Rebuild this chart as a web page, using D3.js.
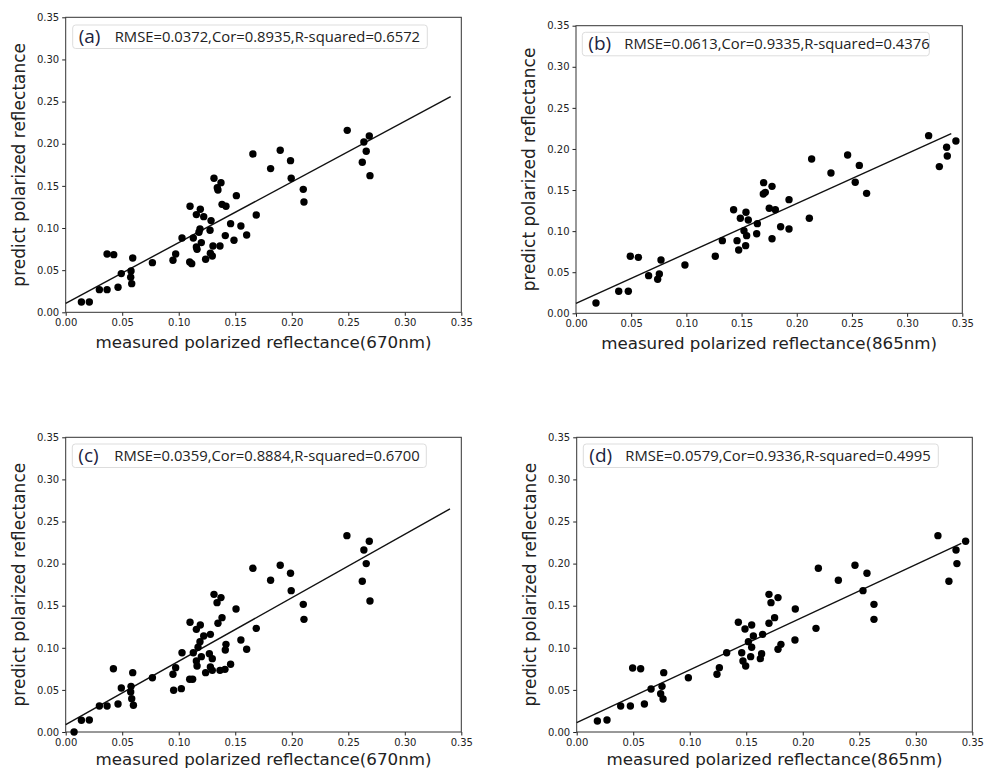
<!DOCTYPE html>
<html>
<head>
<meta charset="utf-8">
<script src="https://cdn.jsdelivr.net/npm/d3@7"></script>
<style>
  body { margin: 0; background: #fff; }
  svg { display: block; }
</style>
</head>
<body>
<div id="chart"></div>
<script>
// DATA
const ticks = [0, 0.05, 0.10, 0.15, 0.20, 0.25, 0.30, 0.35];

// (a) 670nm
const xA = [0.0139,0.0209,0.0298,0.0366,0.0366,0.0425,0.0463,0.0492,0.0578,0.0575,0.0584,0.0593,0.0767,0.0949,0.0973,0.1029,0.1097,0.1115,0.1100,0.1129,0.1156,0.1162,0.1156,0.1191,0.1221,0.1188,0.1179,0.1200,0.1238,0.1280,0.1297,0.1303,0.1277,0.1286,0.1312,0.1341,0.1347,0.1374,0.1383,0.1418,0.1365,0.1412,0.1459,0.1489,0.1510,0.1550,0.1601,0.1686,0.1656,0.1813,0.1898,0.1989,0.1995,0.2102,0.2108,0.2491,0.2638,0.2686,0.2659,0.2624,0.2692];
const yA = [0.0123,0.0123,0.0269,0.0269,0.0692,0.0684,0.0297,0.0459,0.0490,0.0415,0.0340,0.0645,0.0589,0.0617,0.0692,0.0882,0.0597,0.0577,0.1258,0.0882,0.0775,0.0747,0.1159,0.1222,0.1135,0.0989,0.0949,0.0827,0.0629,0.0700,0.0668,0.0787,0.0973,0.1088,0.1590,0.1479,0.1451,0.1538,0.1281,0.1258,0.0787,0.0910,0.1052,0.0854,0.1384,0.1024,0.0917,0.1155,0.1879,0.1705,0.1922,0.1799,0.1590,0.1459,0.1309,0.2159,0.2021,0.2092,0.1910,0.1780,0.1621];
const fitA = [[0, 0.0107], [0.3406, 0.2559]];

// (b) 865nm
const xB = [0.0181,0.0387,0.0474,0.0492,0.0565,0.0658,0.0755,0.0740,0.0770,0.0987,0.1262,0.1326,0.1428,0.1459,0.1474,0.1489,0.1540,0.1561,0.1522,0.1546,0.1537,0.1643,0.1637,0.1697,0.1715,0.1700,0.1776,0.1751,0.1806,0.1776,0.1854,0.1930,0.1930,0.2114,0.2135,0.2310,0.2461,0.2530,0.2567,0.2633,0.3195,0.3292,0.3358,0.3364,0.3442];
const yB = [0.0126,0.0268,0.0268,0.0694,0.0681,0.0458,0.0479,0.0414,0.0649,0.0588,0.0694,0.0884,0.1261,0.0884,0.0771,0.1156,0.1229,0.1136,0.1006,0.0945,0.0823,0.1091,0.0969,0.1452,0.1472,0.1590,0.1545,0.1278,0.1261,0.0908,0.1054,0.1383,0.1026,0.1156,0.1878,0.1707,0.1926,0.1594,0.1800,0.1460,0.2162,0.1785,0.2020,0.1914,0.2097];
const fitB = [[0, 0.0122], [0.3400, 0.2186]];

// (c) 670nm
const xC = [0.0074,0.0139,0.0209,0.0298,0.0366,0.0422,0.0463,0.0492,0.0578,0.0575,0.0584,0.0599,0.0593,0.0767,0.0949,0.0973,0.0955,0.1023,0.1029,0.1097,0.1123,0.1100,0.1129,0.1156,0.1162,0.1156,0.1191,0.1221,0.1188,0.1171,0.1200,0.1238,0.1280,0.1271,0.1297,0.1280,0.1297,0.1312,0.1339,0.1374,0.1347,0.1383,0.1365,0.1409,0.1412,0.1418,0.1459,0.1507,0.1550,0.1601,0.1686,0.1656,0.1813,0.1898,0.1989,0.1995,0.2102,0.2108,0.2488,0.2638,0.2686,0.2659,0.2624,0.2692];
const yC = [0.0000,0.0139,0.0143,0.0309,0.0309,0.0752,0.0333,0.0523,0.0542,0.0475,0.0396,0.0317,0.0705,0.0645,0.0685,0.0764,0.0495,0.0515,0.0942,0.0626,0.0626,0.1303,0.0942,0.0843,0.0784,0.1219,0.1271,0.1140,0.1073,0.1006,0.0895,0.0705,0.1160,0.0930,0.0871,0.0772,0.0732,0.1635,0.1536,0.1596,0.1291,0.1358,0.0732,0.0744,0.0974,0.1041,0.0804,0.1461,0.1093,0.0982,0.1231,0.1944,0.1802,0.1980,0.1885,0.1679,0.1516,0.1338,0.2332,0.2162,0.2265,0.2000,0.1790,0.1556];
const fitC = [[0, 0.0087], [0.3400, 0.2649]];

// (d) 865nm
const xD = [0.0183,0.0268,0.0389,0.0475,0.0495,0.0566,0.0599,0.0658,0.0755,0.0743,0.0764,0.0770,0.0988,0.1241,0.1262,0.1327,0.1430,0.1460,0.1471,0.1495,0.1489,0.1548,0.1563,0.1519,0.1548,0.1539,0.1625,0.1636,0.1645,0.1701,0.1719,0.1781,0.1701,0.1751,0.1781,0.1807,0.1934,0.1931,0.2117,0.2138,0.2315,0.2462,0.2568,0.2533,0.2630,0.2630,0.3196,0.3356,0.3441,0.3364,0.3293];
const yD = [0.0131,0.0143,0.0309,0.0309,0.0760,0.0752,0.0333,0.0511,0.0542,0.0455,0.0392,0.0705,0.0645,0.0685,0.0764,0.0942,0.1303,0.0942,0.0843,0.0784,0.1223,0.1271,0.1140,0.1073,0.1006,0.0895,0.0871,0.0930,0.1160,0.1635,0.1536,0.1596,0.1291,0.1358,0.0982,0.1041,0.1461,0.1093,0.1231,0.1944,0.1802,0.1980,0.1885,0.1679,0.1516,0.1338,0.2332,0.2162,0.2265,0.2000,0.1790];
const fitD = [[0, 0.0111], [0.3403, 0.2241]];

const tags = ['(a)', '(b)', '(c)', '(d)'];
const stats = [
  'RMSE=0.0372,Cor=0.8935,R-squared=0.6572',
  'RMSE=0.0613,Cor=0.9335,R-squared=0.4376',
  'RMSE=0.0359,Cor=0.8884,R-squared=0.6700',
  'RMSE=0.0579,Cor=0.9336,R-squared=0.4995'
];
const xTitles = ['measured polarized reflectance(670nm)', 'measured polarized reflectance(865nm)',
                 'measured polarized reflectance(670nm)', 'measured polarized reflectance(865nm)'];
const yTitle = 'predict polarized reflectance';

// LAYOUT (pixel boxes of each plot area)
const panels = [
  { xs: xA, ys: yA, fit: fitA, left: 65.7, right: 461.3, top: 17.3, bottom: 312.3, box: [72.7, 25, 354.6, 23.5], xt: 36 },
  { xs: xB, ys: yB, fit: fitB, left: 576, right: 962.3, top: 25.7, bottom: 313.3, box: [582.3, 32.3, 347, 23.5], xt: 36 },
  { xs: xC, ys: yC, fit: fitC, left: 65.7, right: 461.3, top: 437.3, bottom: 732, box: [72.3, 444, 354, 23.5], xt: 32.5 },
  { xs: xD, ys: yD, fit: fitD, left: 576.7, right: 972.3, top: 437.3, bottom: 732, box: [583.3, 444, 355, 23.5], xt: 32.5 }
];

const svg = d3.select('#chart').append('svg')
  .attr('width', 985)
  .attr('height', 769);

panels.forEach((p, i) => {
  const x = d3.scaleLinear().domain([0, 0.35]).range([p.left, p.right]);
  const y = d3.scaleLinear().domain([0, 0.35]).range([p.bottom, p.top]);
  const g = svg.append('g');

  // axes
  const xAxis = g.append('g')
    .attr('transform', 'translate(0,' + p.bottom + ')')
    .call(d3.axisBottom(x).tickValues(ticks).tickFormat(d3.format('.2f')).tickSizeOuter(0).tickSize(3.5).tickPadding(3));
  const yAxis = g.append('g')
    .attr('transform', 'translate(' + p.left + ',0)')
    .call(d3.axisLeft(y).tickValues(ticks).tickFormat(d3.format('.2f')).tickSizeOuter(0).tickSize(3.5).tickPadding(3));
  [xAxis, yAxis].forEach(a => {
    a.select('.domain').remove();
    a.selectAll('line').attr('stroke', '#222');
    a.selectAll('text').attr('font-family', 'DejaVu Sans').attr('font-size', 10).attr('fill', '#222');
  });

  // frame
  g.append('rect')
    .attr('x', p.left).attr('y', p.top)
    .attr('width', p.right - p.left).attr('height', p.bottom - p.top)
    .attr('fill', 'none').attr('stroke', '#333').attr('stroke-width', 1);

  // fit line
  g.append('path')
    .datum(p.fit)
    .attr('d', d3.line().x(d => x(d[0])).y(d => y(d[1])))
    .attr('stroke', '#111').attr('stroke-width', 1.4).attr('fill', 'none');

  // points
  g.selectAll('circle')
    .data(p.xs.map((v, k) => [v, p.ys[k]]))
    .enter().append('circle')
    .attr('cx', d => x(d[0]))
    .attr('cy', d => y(d[1]))
    .attr('r', 3.7)
    .attr('fill', '#000');

  // annotation box
  g.append('rect')
    .attr('x', p.box[0]).attr('y', p.box[1])
    .attr('width', p.box[2]).attr('height', p.box[3])
    .attr('rx', 3)
    .attr('fill', '#fff').attr('stroke', '#ddd').attr('stroke-width', 1);
  g.append('text')
    .attr('x', p.box[0] + 6).attr('y', p.box[1] + 18)
    .attr('font-family', 'Open Sans').attr('font-size', 19)
    .attr('fill', '#1c2340')
    .text(tags[i]);
  g.append('text')
    .attr('x', p.box[0] + 42).attr('y', p.box[1] + 16.8)
    .attr('font-family', 'Open Sans').attr('font-size', 14.8)
    .attr('fill', '#222')
    .text(stats[i]);

  // axis titles
  g.append('text')
    .attr('x', (p.left + p.right) / 2)
    .attr('y', p.bottom + p.xt)
    .attr('text-anchor', 'middle')
    .attr('font-family', 'DejaVu Sans').attr('font-size', 16.7)
    .attr('fill', '#222')
    .text(xTitles[i]);
  g.append('text')
    .attr('transform', 'translate(' + (p.left - 41) + ',' + ((p.top + p.bottom) / 2) + ') rotate(-90)')
    .attr('text-anchor', 'middle')
    .attr('font-family', 'DejaVu Sans').attr('font-size', 17)
    .attr('fill', '#222')
    .text(yTitle);
});
</script>
</body>
</html>
